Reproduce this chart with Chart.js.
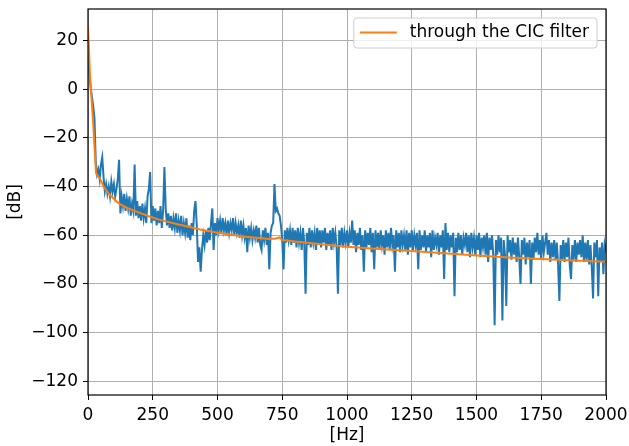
<!DOCTYPE html>
<html>
<head>
<meta charset="utf-8">
<script src="https://cdn.jsdelivr.net/npm/chart.js@4.4.0/dist/chart.umd.min.js"></script>
<style>
  body { margin: 0; background: #fff; }
  #wrap { width: 629px; height: 446px; }
</style>
</head>
<body>
<div id="wrap"><canvas id="cicChart" width="629" height="446"></canvas></div>
<script>
// tick labels
const xTicks = [0, 250, 500, 750, 1000, 1250, 1500, 1750, 2000];
const yTicks = [-120, -100, -80, -60, -40, -20, 0, 20];

// raw spectrum, one value per 5 Hz bin (0 .. 2000 Hz)
const binHz = 5;
const rawDb = [
  14, 6, 1, -3, -7, -12, -30, -35, -33, -37, -31, -28, -36, -42, -39, -43, -40, -44, -38, -42,
  -39, -44, -41, -37, -29, -51, -44, -48, -43, -50, -45, -49, -44, -52, -47, -50, -31, -52, -46, -53,
  -48, -54, -47, -53, -49, -55, -44, -41, -34, -55, -48, -54, -49, -56, -50, -55, -48, -57, -50, -32,
  -49, -56, -51, -57, -52, -58, -53, -57, -51, -59, -54, -58, -52, -60, -55, -59, -53, -61, -56, -62,
  -55, -60, -50, -46, -56, -71, -65, -75, -66, -60, -64, -58, -63, -57, -62, -55, -49, -66, -55, -60,
  -53, -58, -54, -59, -53, -58, -55, -60, -54, -59, -55, -58, -53, -60, -55, -59, -56, -61, -54, -60,
  -56, -61, -57, -67, -56, -61, -57, -62, -58, -61, -56, -63, -57, -64, -66, -58, -62, -57, -64, -59,
  -74, -59, -56, -55, -39, -50, -49, -51, -52, -56, -62, -74, -58, -63, -57, -62, -58, -64, -57, -63,
  -58, -65, -57, -63, -59, -66, -57, -63, -84, -59, -64, -57, -65, -58, -63, -59, -66, -57, -64, -58,
  -65, -58, -63, -57, -66, -59, -64, -58, -66, -57, -63, -59, -65, -84, -58, -64, -57, -65, -59, -63,
  -58, -65, -59, -63, -54, -64, -58, -67, -59, -64, -57, -66, -60, -75, -58, -65, -59, -64, -57, -67,
  -59, -74, -58, -65, -59, -66, -58, -64, -60, -68, -58, -65, -59, -66, -57, -64, -60, -75, -58, -65,
  -59, -67, -58, -64, -60, -66, -58, -68, -59, -65, -58, -66, -60, -64, -59, -74, -58, -66, -60, -65,
  -58, -67, -60, -65, -59, -69, -58, -66, -61, -64, -59, -68, -60, -65, -58, -78, -55, -66, -59, -67,
  -60, -65, -59, -85, -61, -67, -59, -66, -60, -68, -61, -64, -59, -67, -60, -69, -59, -65, -61, -68,
  -60, -66, -59, -69, -61, -65, -60, -68, -59, -71, -61, -66, -60, -69, -97, -62, -68, -60, -67, -61,
  -95, -62, -68, -89, -60, -67, -62, -70, -61, -68, -63, -71, -61, -69, -80, -62, -68, -61, -72, -63,
  -69, -62, -80, -63, -70, -61, -67, -59, -68, -62, -70, -60, -67, -63, -59, -68, -62, -71, -63, -69,
  -62, -70, -63, -72, -87, -64, -70, -62, -71, -63, -69, -61, -72, -78, -64, -70, -62, -71, -63, -68,
  -62, -69, -60, -71, -63, -70, -62, -72, -64, -73, -86, -63, -69, -62, -85, -65, -71, -63, -76, -64,
  -67
];

// after the CIC filter (smooth curve)
const cicHz = [0, 8, 20, 31, 40, 50, 60, 70, 85, 100, 111, 125, 150, 175, 200, 240, 275, 304, 350, 400,
  433, 500, 600, 700, 725, 740, 750, 800, 900, 1000, 1125, 1250, 1375, 1500, 1625, 1750, 1875, 2000];
const cicDb = [25.7, 5, -14, -34.5, -36, -37.5, -40, -41.5, -43.5, -45, -46.2, -47.3, -48.7, -49.8, -50.8,
  -52.4, -53.6, -54.4, -55.6, -56.8, -57.6, -59, -60.5, -61.5, -61.3, -60.9, -62, -62.6, -63.7, -64.7,
  -65.6, -66.5, -67.4, -68.3, -69.1, -69.8, -70.4, -70.9];

const rawPoints = rawDb.map((v, i) => ({ x: i * binHz, y: v }));
const cicPoints = cicHz.map((hz, i) => ({ x: hz, y: cicDb[i] }));

const FONT = 'DejaVu Sans';
const FSIZE = 17;
const minus = v => String(v).replace('-', '\u2212');

const frame = {
  id: 'frame',
  afterDraw(chart) {
    const { ctx, chartArea: a } = chart;
    ctx.save();
    ctx.strokeStyle = '#000';
    ctx.lineWidth = 1.2;
    ctx.strokeRect(a.left, a.top, a.right - a.left, a.bottom - a.top);
    ctx.restore();
  }
};

const boxLegend = {
  id: 'boxLegend',
  afterDraw(chart) {
    const { ctx, chartArea: a } = chart;
    const ds = chart.data.datasets[0];
    ctx.save();
    ctx.font = FSIZE + 'px "' + FONT + '"';
    const tw = ctx.measureText(ds.label).width;
    const w = 6 + 37 + 13 + tw + 8, h = 30;
    const x = a.right - 9 - w, y = a.top + 9;
    ctx.beginPath();
    ctx.roundRect(x, y, w, h, 3);
    ctx.fillStyle = 'rgba(255,255,255,0.8)';
    ctx.fill();
    ctx.strokeStyle = '#cccccc';
    ctx.lineWidth = 1;
    ctx.stroke();
    ctx.beginPath();
    ctx.moveTo(x + 6, y + 14.5);
    ctx.lineTo(x + 43, y + 14.5);
    ctx.strokeStyle = ds.borderColor;
    ctx.lineWidth = 2;
    ctx.stroke();
    ctx.fillStyle = '#000';
    ctx.textBaseline = 'middle';
    ctx.fillText(ds.label, x + 56, y + 15);
    ctx.restore();
  }
};

new Chart('cicChart', {
  type: 'line',
  data: {
    datasets: [
      {
        label: 'through the CIC filter',
        data: cicPoints,
        borderColor: '#ff7f0e',
        borderWidth: 2,
        pointRadius: 0,
        order: 0
      },
      {
        label: 'raw',
        data: rawPoints,
        borderColor: '#1f77b4',
        borderWidth: 2,
        pointRadius: 0,
        order: 1
      }
    ]
  },
  options: {
    responsive: false,
    animation: false,
    events: [],
    layout: { padding: { left: 0, right: 23, top: 9, bottom: 0 } },
    plugins: { legend: { display: false }, tooltip: { enabled: false } },
    scales: {
      x: {
        type: 'linear',
        min: 0,
        max: 2000,
        afterBuildTicks: s => { s.ticks = xTicks.map(v => ({ value: v })); },
        afterFit: s => { s.height = 51; s.paddingLeft = 0; s.paddingRight = 0; },
        grid: { color: '#b0b0b0', lineWidth: 1, tickLength: 5, tickColor: '#000' },
        border: { display: false },
        ticks: { color: '#000', font: { family: FONT, size: FSIZE }, padding: 5, maxRotation: 0, callback: v => minus(v) },
        title: { display: true, text: '[Hz]', color: '#000', font: { family: FONT, size: FSIZE }, padding: { top: 0, bottom: 0 } }
      },
      y: {
        type: 'linear',
        min: -125.6,
        max: 32.9,
        afterBuildTicks: s => { s.ticks = yTicks.map(v => ({ value: v })); },
        afterFit: s => { s.width = 88; s.paddingTop = 0; s.paddingBottom = 0; },
        grid: { color: '#b0b0b0', lineWidth: 1, tickLength: 5, tickColor: '#000' },
        border: { display: false },
        ticks: { color: '#000', font: { family: FONT, size: FSIZE }, padding: 5, callback: v => minus(v) },
        title: { display: true, text: '[dB]', color: '#000', font: { family: FONT, size: FSIZE }, padding: { top: 5, bottom: 0 } }
      }
    }
  },
  plugins: [frame, boxLegend]
});
</script>
</body>
</html>
